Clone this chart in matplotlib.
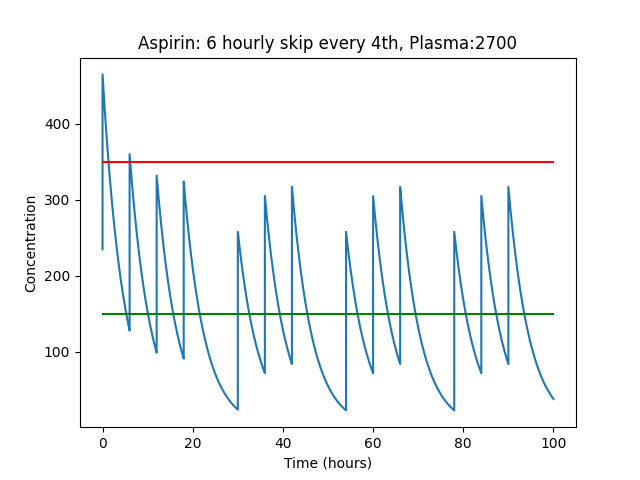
import numpy as np
import matplotlib.pyplot as plt

# dose segments: start time, end time, peak after dose, trough before next dose
seg_start = [0, 6, 12, 18, 30, 36, 42, 54, 60, 66, 78, 84, 90]
seg_end = [6, 12, 18, 30, 36, 42, 54, 60, 66, 78, 84, 90, 100]
peaks = [465, 360, 332, 324, 258, 305, 317, 258, 305, 317, 258, 305, 317]
troughs = [128, 99, 91, 24, 72, 84, 23, 72, 84, 23, 72, 84, 38]
start_level = 235
upper_limit = 350
lower_limit = 150

t_all = [0]
c_all = [start_level]
for t0, t1, p, q in zip(seg_start, seg_end, peaks, troughs):
    # first-order elimination between the read peak and trough
    t = np.linspace(t0, t1, 60)
    c = p * (q / p) ** ((t - t0) / (t1 - t0))
    t_all.extend(t)
    c_all.extend(c)

plt.figure(figsize=(6.4, 4.8))
plt.plot(t_all, c_all)
plt.plot([0, 100], [upper_limit, upper_limit], color='red')
plt.plot([0, 100], [lower_limit, lower_limit], color='green')
plt.title('Aspirin: 6 hourly skip every 4th, Plasma:2700')
plt.xlabel('Time (hours)')
plt.ylabel('Concentration')
plt.savefig('out.png', dpi=100)
